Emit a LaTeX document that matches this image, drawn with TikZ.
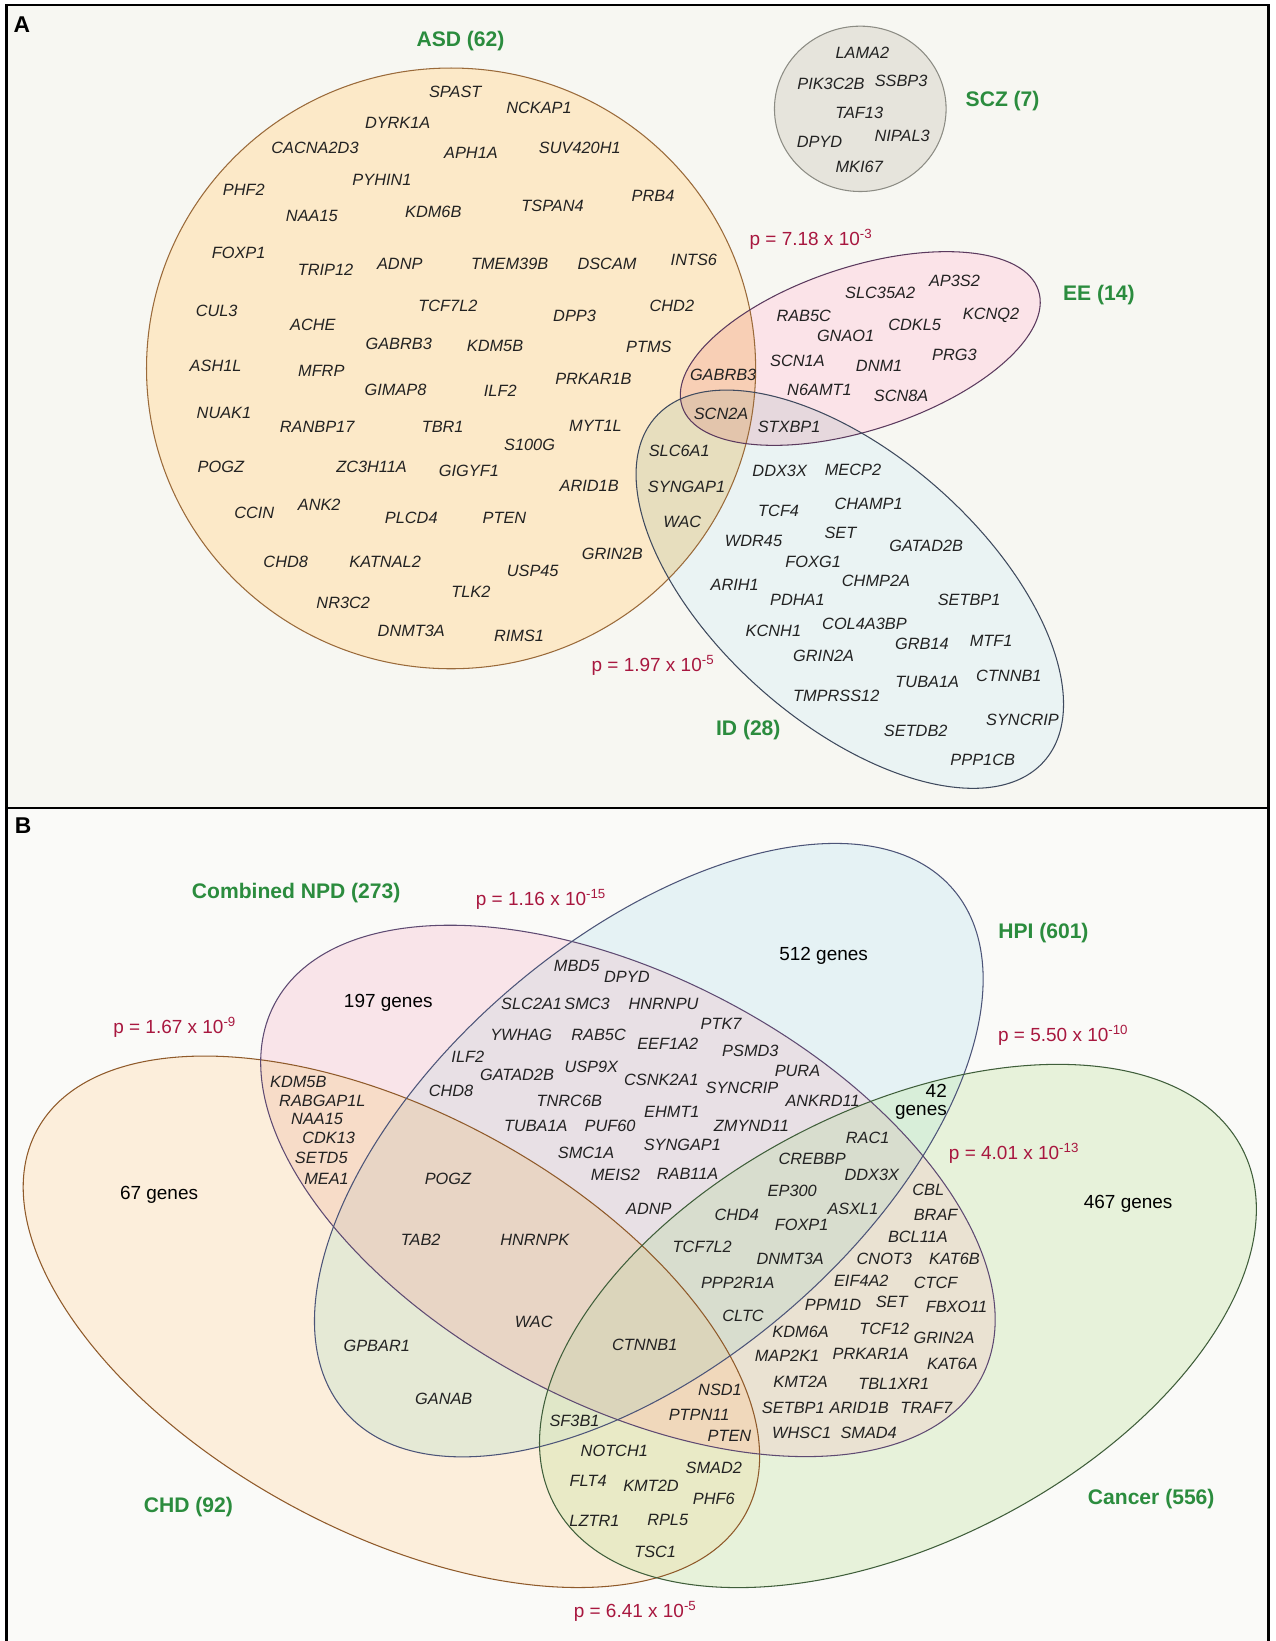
\documentclass[tikz,border=0pt]{standalone}
\usepackage{fontspec}
\setmainfont{Liberation Sans}
\definecolor{bgA}{HTML}{F7F7F2}
\definecolor{bgB}{HTML}{FAFAF8}
\definecolor{setgreen}{HTML}{2B8C3E}
\definecolor{pred}{HTML}{A8173F}
\definecolor{genetext}{HTML}{222222}
\definecolor{asdfill}{HTML}{FCE9C8}
\definecolor{asdline}{HTML}{9A6A3A}
\definecolor{eefill}{HTML}{FBE3E8}
\definecolor{eeline}{HTML}{5B3A5E}
\definecolor{idfill}{HTML}{EAF3F3}
\definecolor{idline}{HTML}{3F4A5E}
\definecolor{sczfill}{HTML}{E6E4DC}
\definecolor{sczline}{HTML}{8C8C84}
% panel B regions
\definecolor{chdfill}{HTML}{FCEEDB}
\definecolor{npdfill}{HTML}{F9E4E9}
\definecolor{hpifill}{HTML}{E5F2F4}
\definecolor{canfill}{HTML}{E7F2DA}
\definecolor{chdnpd}{HTML}{F7DCC8}
\definecolor{chdhpi}{HTML}{E5E9D5}
\definecolor{chdcan}{HTML}{E9EAC6}
\definecolor{npdhpi}{HTML}{E8E0E5}
\definecolor{npdcan}{HTML}{EAE2D2}
\definecolor{hpican}{HTML}{D8EED9}
\definecolor{chdnpdhpi}{HTML}{E8D5C5}
\definecolor{chdnpdcan}{HTML}{F0D8BB}
\definecolor{chdhpican}{HTML}{E0E7C8}
\definecolor{npdhpican}{HTML}{D8DDCE}
\definecolor{allfour}{HTML}{DBD5BB}
\definecolor{chdline}{HTML}{8F5A2A}
\definecolor{npdline}{HTML}{5E4A72}
\definecolor{hpiline}{HTML}{4C5478}
\definecolor{canline}{HTML}{3F5E3A}

\begin{document}
\begin{tikzpicture}[x=0.020937cm,y=-0.020937cm]
\tikzstyle{gene}=[font=\fontsize{9.3}{10}\selectfont\itshape,text=genetext,inner sep=0pt]
\tikzstyle{setname}=[font=\fontsize{12}{14}\selectfont\bfseries,text=setgreen,inner sep=0pt]
\tikzstyle{pval}=[font=\fontsize{10.8}{12}\selectfont,text=pred,inner sep=0pt]
\tikzstyle{count}=[font=\fontsize{10.8}{10.4}\selectfont,inner sep=0pt,align=right]
\tikzstyle{panel}=[font=\fontsize{13}{15}\selectfont\bfseries,inner sep=0pt]
\tikzstyle{chdshape}=[rotate around={-28.4:(CHD)},insert path={(CHD) ellipse [x radius=385, y radius=200]}]
\tikzstyle{npdshape}=[rotate around={-27.9:(NPD)},insert path={(NPD) ellipse [x radius=382, y radius=204]}]
\tikzstyle{hpishape}=[rotate around={40.6:(HPI)},insert path={(HPI) ellipse [x radius=383, y radius=203]}]
\tikzstyle{canshape}=[rotate around={27.2:(CAN)},insert path={(CAN) ellipse [x radius=370, y radius=207]}]
\useasboundingbox (0,0) rectangle (1219,1568);
\fill[white] (0,0) rectangle (1219,1568);
\fill[bgA] (6,5) rectangle (1212,772);
\fill[bgB] (6,772) rectangle (1212,1580);
\draw[line width=1.4pt] (6,1580) -- (6,5) -- (1212,5) -- (1212,1580);
\draw[line width=1.4pt] (6,772) -- (1212,772);

% panel A
\coordinate (ASD) at (431,352);
\coordinate (SCZ) at (822,104);
\coordinate (EE) at (822,333);
\coordinate (ID) at (812,563);
\begin{scope}[blend group=multiply]
\fill[asdfill] (ASD) ellipse [x radius=291, y radius=287];
\fill[eefill, rotate around={18:(EE)}] (EE) ellipse [x radius=179, y radius=78];
\fill[idfill, rotate around={-41.5:(ID)}] (ID) ellipse [x radius=248, y radius=128];
\end{scope}
\filldraw[fill=sczfill, draw=sczline, line width=0.6pt] (SCZ) ellipse [x radius=82, y radius=79];
\draw[asdline, line width=0.6pt] (ASD) ellipse [x radius=291, y radius=287];
\draw[eeline, line width=0.6pt, rotate around={18:(EE)}] (EE) ellipse [x radius=179, y radius=78];
\draw[idline, line width=0.6pt, rotate around={-41.5:(ID)}] (ID) ellipse [x radius=248, y radius=128];

\node[panel] (pa) at (21,24) {A};
\node[setname] (asd) at (440,39) {ASD (62)};
\node[setname] (scz) at (958,97) {SCZ (7)};
\node[setname] (ee) at (1050,282) {EE (14)};
\node[setname] (id) at (715,698) {ID (28)};
\node[pval] (pee) at (775,229) {p = 7.18 x 10\textsuperscript{-3}};
\node[pval] (pid) at (624,636) {p = 1.97 x 10\textsuperscript{-5}};

% ASD genes
\node[gene] (spast) at (435,88) {SPAST};
\node[gene] (nckap1) at (515,103) {NCKAP1};
\node[gene] (dyrk1a) at (380,117) {DYRK1A};
\node[gene] (cacna2d3) at (301,141) {CACNA2D3};
\node[gene] (aph1a) at (450,146) {APH1A};
\node[gene] (suv420h1) at (554,141) {SUV420H1};
\node[gene] (phf2) at (233,181) {PHF2};
\node[gene] (pyhin1) at (365,172) {PYHIN1};
\node[gene] (prb4) at (624,187) {PRB4};
\node[gene] (naa15) at (298,206) {NAA15};
\node[gene] (kdm6b) at (414,202) {KDM6B};
\node[gene] (tspan4) at (528,197) {TSPAN4};
\node[gene] (foxp1) at (228,242) {FOXP1};
\node[gene] (trip12) at (311,258) {TRIP12};
\node[gene] (adnp) at (382,252) {ADNP};
\node[gene] (tmem39b) at (487,252) {TMEM39B};
\node[gene] (dscam) at (580,252) {DSCAM};
\node[gene] (ints6) at (663,248) {INTS6};
\node[gene] (cul3) at (207,297) {CUL3};
\node[gene] (ache) at (299,310) {ACHE};
\node[gene] (tcf7l2) at (428,292) {TCF7L2};
\node[gene] (dpp3) at (549,302) {DPP3};
\node[gene] (chd2) at (642,292) {CHD2};
\node[gene] (gabrb3) at (381,329) {GABRB3};
\node[gene] (kdm5b) at (473,331) {KDM5B};
\node[gene] (ptms) at (620,331) {PTMS};
\node[gene] (ash1l) at (206,350) {ASH1L};
\node[gene] (mfrp) at (307,354) {MFRP};
\node[gene] (prkar1b) at (567,362) {PRKAR1B};
\node[gene] (gimap8) at (378,373) {GIMAP8};
\node[gene] (ilf2) at (478,373) {ILF2};
\node[gene] (nuak1) at (214,395) {NUAK1};
\node[gene] (ranbp17) at (303,408) {RANBP17};
\node[gene] (tbr1) at (423,408) {TBR1};
\node[gene] (myt1l) at (569,407) {MYT1L};
\node[gene] (s100g) at (506,425) {S100G};
\node[gene] (pogz) at (211,446) {POGZ};
\node[gene] (zc3h11a) at (355,446) {ZC3H11A};
\node[gene] (gigyf1) at (448,450) {GIGYF1};
\node[gene] (arid1b) at (563,464) {ARID1B};
\node[gene] (ccin) at (243,490) {CCIN};
\node[gene] (ank2) at (305,482) {ANK2};
\node[gene] (plcd4) at (393,495) {PLCD4};
\node[gene] (pten) at (482,495) {PTEN};
\node[gene] (chd8) at (273,537) {CHD8};
\node[gene] (katnal2) at (368,537) {KATNAL2};
\node[gene] (grin2b) at (585,529) {GRIN2B};
\node[gene] (usp45) at (509,545) {USP45};
\node[gene] (tlk2) at (450,565) {TLK2};
\node[gene] (nr3c2) at (328,576) {NR3C2};
\node[gene] (dnmt3a) at (393,603) {DNMT3A};
\node[gene] (rims1) at (496,608) {RIMS1};
% SCZ genes
\node[gene] (lama2) at (824,50) {LAMA2};
\node[gene] (pik3c2b) at (794,80) {PIK3C2B};
\node[gene] (ssbp3) at (861,77) {SSBP3};
\node[gene] (taf13) at (821,108) {TAF13};
\node[gene] (dpyd) at (783,136) {DPYD};
\node[gene] (nipal3) at (862,130) {NIPAL3};
\node[gene] (mki67) at (821,159) {MKI67};
% EE genes
\node[gene] (ap3s2) at (912,268) {AP3S2};
\node[gene] (slc35a2) at (841,280) {SLC35A2};
\node[gene] (rab5c) at (768,302) {RAB5C};
\node[gene] (cdkl5) at (874,310) {CDKL5};
\node[gene] (kcnq2) at (947,301) {KCNQ2};
\node[gene] (gnao1) at (808,321) {GNAO1};
\node[gene] (scn1a) at (762,345) {SCN1A};
\node[gene] (dnm1) at (840,350) {DNM1};
\node[gene] (prg3) at (912,339) {PRG3};
\node[gene] (gabrb3x) at (691,358) {GABRB3};
\node[gene] (n6amt1) at (783,373) {N6AMT1};
\node[gene] (scn8a) at (861,378) {SCN8A};
\node[gene] (scn2a) at (689,395) {SCN2A};
\node[gene] (stxbp1) at (754,408) {STXBP1};
% ID genes
\node[gene] (slc6a1) at (649,431) {SLC6A1};
\node[gene] (ddx3x) at (745,450) {DDX3X};
\node[gene] (mecp2) at (815,449) {MECP2};
\node[gene] (syngap1) at (656,465) {SYNGAP1};
\node[gene] (champ1) at (830,481) {CHAMP1};
\node[gene] (tcf4) at (744,488) {TCF4};
\node[gene] (wac) at (652,499) {WAC};
\node[gene] (set) at (803,509) {SET};
\node[gene] (wdr45) at (720,517) {WDR45};
\node[gene] (gatad2b) at (885,522) {GATAD2B};
\node[gene] (foxg1) at (777,537) {FOXG1};
\node[gene] (chmp2a) at (837,555) {CHMP2A};
\node[gene] (arih1) at (702,559) {ARIH1};
\node[gene] (pdha1) at (762,573) {PDHA1};
\node[gene] (setbp1) at (926,573) {SETBP1};
\node[gene] (col4a3bp) at (826,596) {COL4A3BP};
\node[gene] (kcnh1) at (739,603) {KCNH1};
\node[gene] (grb14) at (881,615) {GRB14};
\node[gene] (mtf1) at (947,612) {MTF1};
\node[gene] (grin2a) at (787,627) {GRIN2A};
\node[gene] (ctnnb1) at (964,646) {CTNNB1};
\node[gene] (tuba1a) at (886,652) {TUBA1A};
\node[gene] (tmprss12) at (799,665) {TMPRSS12};
\node[gene] (syncrip) at (977,688) {SYNCRIP};
\node[gene] (setdb2) at (875,698) {SETDB2};
\node[gene] (ppp1cb) at (939,726) {PPP1CB};

% panel B
\coordinate (CHD) at (374,1263);
\coordinate (NPD) at (600,1138);
\coordinate (HPI) at (620,1099);
\coordinate (CAN) at (858,1267);
\fill[chdfill, chdshape];
\fill[npdfill, npdshape];
\fill[hpifill, hpishape];
\fill[canfill, canshape];
% two sets
\begin{scope}\clip[chdshape]; \fill[chdnpd, npdshape]; \end{scope}
\begin{scope}\clip[chdshape]; \fill[chdhpi, hpishape]; \end{scope}
\begin{scope}\clip[chdshape]; \fill[chdcan, canshape]; \end{scope}
\begin{scope}\clip[npdshape]; \fill[npdhpi, hpishape]; \end{scope}
\begin{scope}\clip[npdshape]; \fill[npdcan, canshape]; \end{scope}
\begin{scope}\clip[hpishape]; \fill[hpican, canshape]; \end{scope}
% three sets
\begin{scope}\clip[chdshape]; \clip[npdshape]; \fill[chdnpdhpi, hpishape]; \end{scope}
\begin{scope}\clip[chdshape]; \clip[npdshape]; \fill[chdnpdcan, canshape]; \end{scope}
\begin{scope}\clip[chdshape]; \clip[hpishape]; \fill[chdhpican, canshape]; \end{scope}
\begin{scope}\clip[npdshape]; \clip[hpishape]; \fill[npdhpican, canshape]; \end{scope}
% all four
\begin{scope}\clip[chdshape]; \clip[npdshape]; \clip[hpishape]; \fill[allfour, canshape]; \end{scope}
\draw[chdline, line width=0.6pt, chdshape];
\draw[npdline, line width=0.6pt, npdshape];
\draw[hpiline, line width=0.6pt, hpishape];
\draw[canline, line width=0.6pt, canshape];

\node[panel] (pb) at (22,789) {B};
\node[setname] (npd) at (283,853) {Combined NPD (273)};
\node[setname] (hpi) at (997,892) {HPI (601)};
\node[setname] (chd) at (180,1440) {CHD (92)};
\node[setname] (can) at (1100,1432) {Cancer (556)};
\node[pval] (pnh) at (517,859) {p = 1.16 x 10\textsuperscript{-15}};
\node[pval] (pnc) at (167,982) {p = 1.67 x 10\textsuperscript{-9}};
\node[pval] (phc) at (1016,989) {p = 5.50 x 10\textsuperscript{-10}};
\node[pval] (pnca) at (969,1102) {p = 4.01 x 10\textsuperscript{-13}};
\node[pval] (pcc) at (607,1540) {p = 6.41 x 10\textsuperscript{-5}};
\node[count] (n512) at (787,913) {512 genes};
\node[count] (n197) at (371,958) {197 genes};
\node[count] (n42) at (880,1053) {42\\genes};
\node[count] (n467) at (1078,1150) {467 genes};
\node[count] (n67) at (152,1142) {67 genes};

\node[gene] (bmbd5) at (551,923) {MBD5};
\node[gene] (bdpyd) at (599,933) {DPYD};
\node[gene] (bslc2a1) at (508,959) {SLC2A1};
\node[gene] (bsmc3) at (561,959) {SMC3};
\node[gene] (bhnrnpu) at (634,959) {HNRNPU};
\node[gene] (bptk7) at (689,978) {PTK7};
\node[gene] (bywhag) at (498,989) {YWHAG};
\node[gene] (brab5c) at (572,989) {RAB5C};
\node[gene] (beef1a2) at (638,997) {EEF1A2};
\node[gene] (bpsmd3) at (717,1004) {PSMD3};
\node[gene] (bilf2) at (447,1010) {ILF2};
\node[gene] (busp9x) at (565,1019) {USP9X};
\node[gene] (bpura) at (762,1023) {PURA};
\node[gene] (bgatad2b) at (494,1027) {GATAD2B};
\node[gene] (bcsnk2a1) at (632,1032) {CSNK2A1};
\node[gene] (bsyncrip) at (709,1039) {SYNCRIP};
\node[gene] (bchd8) at (431,1042) {CHD8};
\node[gene] (bkdm5b) at (285,1034) {KDM5B};
\node[gene] (brabgap1l) at (308,1052) {RABGAP1L};
\node[gene] (btnrc6b) at (544,1052) {TNRC6B};
\node[gene] (bankrd11) at (786,1052) {ANKRD11};
\node[gene] (behmt1) at (642,1062) {EHMT1};
\node[gene] (bnaa15) at (303,1069) {NAA15};
\node[gene] (btuba1a) at (512,1076) {TUBA1A};
\node[gene] (bpuf60) at (583,1076) {PUF60};
\node[gene] (bzmynd11) at (718,1076) {ZMYND11};
\node[gene] (brac1) at (829,1087) {RAC1};
\node[gene] (bcdk13) at (314,1087) {CDK13};
\node[gene] (bsyngap1) at (652,1094) {SYNGAP1};
\node[gene] (bsmc1a) at (560,1102) {SMC1A};
\node[gene] (bsetd5) at (307,1106) {SETD5};
\node[gene] (bcrebbp) at (776,1107) {CREBBP};
\node[gene] (bmeis2) at (588,1123) {MEIS2};
\node[gene] (brab11a) at (657,1122) {RAB11A};
\node[gene] (bddx3x) at (833,1123) {DDX3X};
\node[gene] (bmea1) at (312,1126) {MEA1};
\node[gene] (bpogz) at (428,1126) {POGZ};
\node[gene] (bcbl) at (887,1137) {CBL};
\node[gene] (bep300) at (757,1138) {EP300};
\node[gene] (badnp) at (620,1155) {ADNP};
\node[gene] (basxl1) at (815,1155) {ASXL1};
\node[gene] (bchd4) at (704,1161) {CHD4};
\node[gene] (bbraf) at (894,1161) {BRAF};
\node[gene] (bfoxp1) at (766,1170) {FOXP1};
\node[gene] (bbcl11a) at (877,1182) {BCL11A};
\node[gene] (btab2) at (402,1185) {TAB2};
\node[gene] (bhnrnpk) at (511,1185) {HNRNPK};
\node[gene] (btcf7l2) at (671,1191) {TCF7L2};
\node[gene] (bdnmt3a) at (755,1203) {DNMT3A};
\node[gene] (bcnot3) at (845,1203) {CNOT3};
\node[gene] (bkat6b) at (912,1203) {KAT6B};
\node[gene] (beif4a2) at (823,1224) {EIF4A2};
\node[gene] (bppp2r1a) at (705,1226) {PPP2R1A};
\node[gene] (bctcf) at (894,1226) {CTCF};
\node[gene] (bset) at (852,1244) {SET};
\node[gene] (bppm1d) at (796,1247) {PPM1D};
\node[gene] (bfbxo11) at (914,1249) {FBXO11};
\node[gene] (bcltc) at (710,1257) {CLTC};
\node[gene] (bwac) at (510,1263) {WAC};
\node[gene] (btcf12) at (845,1270) {TCF12};
\node[gene] (bkdm6a) at (765,1273) {KDM6A};
\node[gene] (bgrin2a) at (902,1278) {GRIN2A};
\node[gene] (bctnnb1) at (616,1285) {CTNNB1};
\node[gene] (bgpbar1) at (360,1286) {GPBAR1};
\node[gene] (bprkar1a) at (832,1294) {PRKAR1A};
\node[gene] (bmap2k1) at (752,1295) {MAP2K1};
\node[gene] (bkat6a) at (910,1303) {KAT6A};
\node[gene] (bkmt2a) at (765,1320) {KMT2A};
\node[gene] (btbl1xr1) at (854,1322) {TBL1XR1};
\node[gene] (bnsd1) at (688,1328) {NSD1};
\node[gene] (bganab) at (424,1337) {GANAB};
\node[gene] (bsetbp1) at (758,1345) {SETBP1};
\node[gene] (barid1b) at (821,1345) {ARID1B};
\node[gene] (btraf7) at (885,1345) {TRAF7};
\node[gene] (bptpn11) at (668,1352) {PTPN11};
\node[gene] (bsf3b1) at (549,1358) {SF3B1};
\node[gene] (bsmad4) at (830,1369) {SMAD4};
\node[gene] (bwhsc1) at (766,1369) {WHSC1};
\node[gene] (bpten) at (697,1372) {PTEN};
\node[gene] (bnotch1) at (587,1386) {NOTCH1};
\node[gene] (bsmad2) at (682,1403) {SMAD2};
\node[gene] (bflt4) at (562,1415) {FLT4};
\node[gene] (bkmt2d) at (622,1420) {KMT2D};
\node[gene] (bphf6) at (682,1432) {PHF6};
\node[gene] (blztr1) at (568,1453) {LZTR1};
\node[gene] (brpl5) at (638,1452) {RPL5};
\node[gene] (btsc1) at (626,1483) {TSC1};
\end{tikzpicture}
\end{document}
